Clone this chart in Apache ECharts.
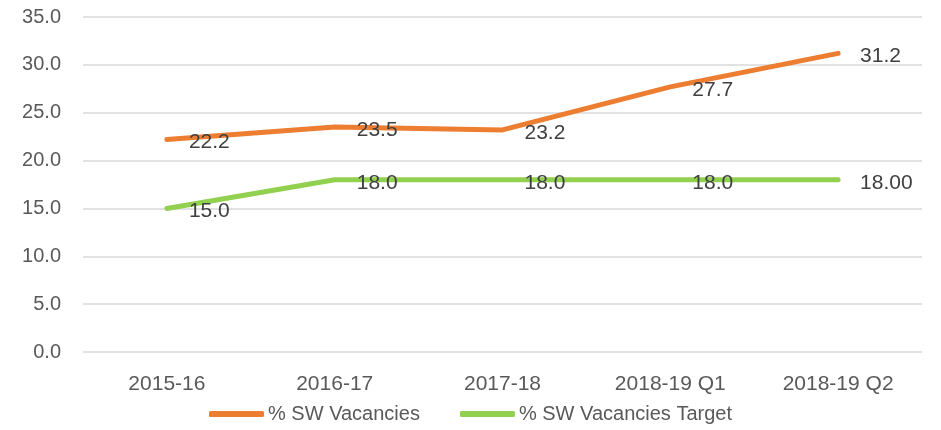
<!DOCTYPE html>
<html>
<head>
<meta charset="utf-8">
<script src="https://cdn.jsdelivr.net/npm/echarts@6/dist/echarts.min.js"></script>
<style>
  html, body { margin: 0; padding: 0; background: #fff; }
  #chart { width: 941px; height: 430px; }
</style>
</head>
<body>
<div id="chart"></div>
<script>
const categories = ['2015-16', '2016-17', '2017-18', '2018-19 Q1', '2018-19 Q2'];
const vacancies = [22.2, 23.5, 23.2, 27.7, 31.2];
const target = [15.0, 18.0, 18.0, 18.0, 18.0];
const targetLabels = ['15.0', '18.0', '18.0', '18.0', '18.00'];

const font = 'Liberation Sans';
const chart = echarts.init(document.getElementById('chart'));

const option = {
  animation: false,
  grid: { left: 83, right: 19, top: 17, bottom: 78 },
  legend: {
    bottom: 1,
    left: 'center',
    itemWidth: 55,
    itemHeight: 6,
    itemGap: 40,
    icon: 'roundRect',
    textStyle: { color: '#595959', fontSize: 20, fontFamily: font, padding: [0, 0, 0, -1] },
    data: ['% SW Vacancies', '% SW Vacancies Target']
  },
  xAxis: {
    type: 'category',
    data: categories,
    axisLine: { show: false },
    axisTick: { show: false },
    axisLabel: { color: '#595959', fontSize: 21, fontFamily: font, margin: 22 }
  },
  yAxis: {
    type: 'value',
    min: 0,
    max: 35,
    interval: 5,
    axisLabel: {
      color: '#595959', fontSize: 20, fontFamily: font, margin: 22,
      formatter: v => v.toFixed(1)
    },
    splitLine: { lineStyle: { color: '#d9d9d9', width: 1.5 } }
  },
  series: [
    {
      name: '% SW Vacancies',
      type: 'line',
      data: vacancies,
      symbol: 'circle',
      symbolSize: 0,
      color: '#ED7D31',
      lineStyle: { width: 5, cap: 'round', join: 'round' },
      label: {
        show: true,
        position: 'right',
        distance: 22,
        offset: [0, 3],
        color: '#404040',
        fontSize: 21,
        fontFamily: font,
        formatter: p => p.value.toFixed(1)
      }
    },
    {
      name: '% SW Vacancies Target',
      type: 'line',
      data: target,
      symbol: 'circle',
      symbolSize: 0,
      color: '#92D050',
      lineStyle: { width: 5, cap: 'round', join: 'round' },
      label: {
        show: true,
        position: 'right',
        distance: 22,
        offset: [0, 3],
        color: '#404040',
        fontSize: 21,
        fontFamily: font,
        formatter: p => targetLabels[p.dataIndex]
      }
    }
  ]
};
chart.setOption(option);
</script>
</body>
</html>
